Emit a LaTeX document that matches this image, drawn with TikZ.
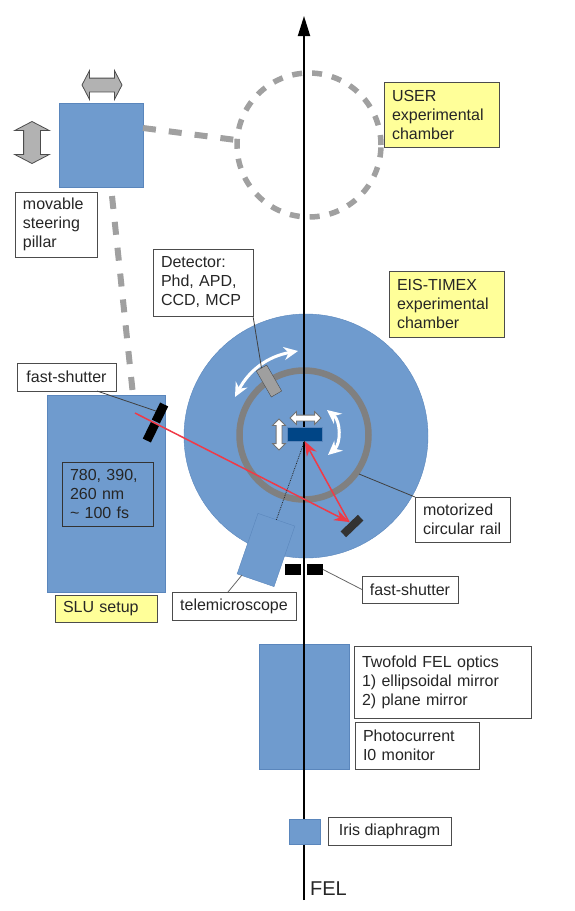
\documentclass[tikz,border=0pt]{standalone}
\usepackage{fontspec}
\setmainfont{Liberation Sans}
\usepackage{xcolor}
\usetikzlibrary{positioning, arrows.meta, calc, shapes.arrows}
\definecolor{blockblue}{HTML}{6F9BCE}
\definecolor{edgeblue}{HTML}{5A86BC}
\definecolor{sampleblue}{HTML}{004586}
\definecolor{notegold}{HTML}{FFFF99}
\definecolor{railgray}{HTML}{808080}
\definecolor{dashgray}{HTML}{A0A0A0}
\definecolor{beamred}{HTML}{F03A47}
\begin{document}
\begin{tikzpicture}[
    x=1pt, y=-1pt,
    block/.style={
        draw=edgeblue, fill=blockblue, inner sep=0pt, outer sep=0pt
    },
    lab/.style={
        draw=black!70, fill=white, line width=0.9pt,
        font=\fontsize{16}{19}\selectfont, text=black!85,
        inner xsep=8pt, inner ysep=0pt, outer sep=0pt, align=left
    },
    note/.style={lab, fill=notegold},
    lead/.style={draw=black!75, line width=0.8pt},
    pathdash/.style={draw=dashgray, line width=6pt, dash pattern=on 13pt off 13pt},
    shutter/.style={fill=black, inner sep=0pt, outer sep=0pt},
    dblarr/.style={
        double arrow, outer sep=0pt, inner xsep=0pt,
        double arrow tip angle=125, line width=0.8pt
    },
    bigarr/.style={dblarr, draw=black!70, fill=gray!60},
    smallarr/.style={dblarr, draw=black!55, fill=white, inner ysep=2.5pt, double arrow tip angle=90, double arrow head extend=3.5pt, minimum height=31pt},
    swing/.style={draw=white, line width=3pt, {Stealth[length=14pt,width=13pt]}-{Stealth[length=14pt,width=13pt]}},
    beam/.style={draw=beamred, line width=1.5pt}
]
    \useasboundingbox (0,0) rectangle (575,911);

    % chambers and big blocks
    \node[block, circle, minimum size=244pt] (chamber) at (306,436) {};
    \node[draw=dashgray, line width=5.5pt, dash pattern=on 10pt off 10pt, circle, inner sep=0pt, outer sep=0pt, minimum size=144pt] (userring) at (309,145) {};
    \node[block, minimum width=84pt, minimum height=84pt] (pillar) at (101,145) {};
    \node[block, minimum width=118pt, minimum height=197pt] (slu) at (106,493.5) {};
    \node[block, minimum width=90pt, minimum height=125pt] (optics) at (304,706.5) {};
    \node[draw=railgray, line width=6.5pt, circle, inner sep=0pt, outer sep=0pt, minimum size=129pt] (rail) at (304,435) {};
    \node[block, rotate=-19, minimum width=39pt, minimum height=64pt] (tele) at (266,550) {};

    % FEL axis
    \coordinate (felstart) at (304,900);
    \coordinate (feltip) at (304,16);
    \draw[line width=1.8pt, -{Triangle[length=20pt,width=12pt]}] (felstart) -- (feltip);
    \node[block, minimum width=31pt, minimum height=25pt] (iris) at (304.5,831.5) {};

    % dashed laser path
    \coordinate (pillarout) at (143,128);
    \coordinate (userin) at (236,140);
    \coordinate (pillardown) at (112,196);
    \coordinate (sluin) at (133,395);
    \draw[pathdash] (pillarout) -- (userin);
    \draw[pathdash] (pillardown) -- (sluin);

    % small elements in the chamber
    \node[draw=black!70, fill=gray!75, rotate=30, inner sep=0pt, outer sep=0pt, minimum width=12pt, minimum height=30pt] (det) at (269,381) {};
    \node[fill=sampleblue, draw=edgeblue, inner sep=0pt, outer sep=0pt, minimum width=35pt, minimum height=14pt] (sample) at (304.5,434) {};
    \node[shutter, minimum width=16pt, minimum height=11pt] (shutl) at (293,569.5) {};
    \node[shutter, minimum width=16pt, minimum height=11pt] (shutr) at (315,569.5) {};
    \node[shutter, rotate=-26, minimum width=9pt, minimum height=19pt] (lasl) at (160,413) {};
    \node[shutter, rotate=-26, minimum width=9pt, minimum height=19pt] (lasr) at (151,432) {};

    % motion arrows
    \node[bigarr, inner ysep=6.5pt, double arrow head extend=7.5pt, minimum height=40pt] (movh) at (102,85) {};
    \node[bigarr, rotate=90, inner ysep=8pt, double arrow head extend=9pt, minimum height=42pt] (movv) at (32,142.5) {};
    \node[smallarr] (samh) at (305.5,418) {};
    \node[smallarr, rotate=90] (samv) at (279,434.5) {};
    \coordinate (detswa) at (235,397);
    \coordinate (detswb) at (298,351);
    \draw[swing] (detswa) to[bend left=26] (detswb);
    \coordinate (samswa) at (327,410);
    \coordinate (samswb) at (328,455);
    \draw[swing] (samswa) to[bend left=50] (samswb);

    % beams
    \coordinate (lasersrc) at (135,413);
    \coordinate (mirrorhit) at (349,522);
    \draw[beam, -{Stealth[length=15pt,width=11pt]}] (lasersrc) -- (mirrorhit);
    \draw[beam, -{Stealth[length=15pt,width=11pt]}] (mirrorhit) -- (sample.south);
    \draw[black!85, densely dotted, line width=0.8pt] (sample.south) -- (tele.north);
    \node[fill=black!80, rotate=-46, inner sep=0pt, outer sep=0pt, minimum width=8pt, minimum height=24pt] (mirror) at (352,526) {};

    % labels
    \node[lab, text width=66pt, minimum height=65pt] (pillarlab) at (56,224.5) {movable\\steering\\pillar};
    \node[note, text width=99pt, minimum height=65pt] (userlab) at (441.5,114.5) {USER\\experimental\\chamber};
    \node[note, text width=99pt, minimum height=66pt] (eislab) at (446.5,304) {EIS-TIMEX\\experimental\\chamber};
    \node[lab, text width=84pt, minimum height=67pt] (detlab) at (203,282.5) {Detector:\\Phd, APD,\\CCD, MCP};
    \node[lab, minimum width=99pt, minimum height=28pt] (fslab) at (66.5,377) {fast-shutter};
    \node[lab, draw=black!80, fill=blockblue, text width=75pt, minimum height=64pt] (wavelab) at (107.5,494) {780, 390,\\260 nm\\\textasciitilde{} 100 fs};
    \node[note, text width=86pt, minimum height=27pt] (slulab) at (106,608.5) {SLU setup};
    \node[lab, minimum width=124pt, minimum height=28pt] (telelab) at (234,606) {telemicroscope};
    \node[lab, text width=79pt, minimum height=45pt] (raillab) at (462.5,519.5) {motorized\\circular rail};
    \node[lab, minimum width=96pt, minimum height=27pt] (shutlab) at (410,589.5) {fast-shutter};
    \node[lab, text width=161pt, minimum height=72pt] (optlab) at (442.5,682) {Twofold FEL optics\\1) ellipsoidal mirror\\2) plane mirror};
    \node[lab, text width=108pt, minimum height=47pt] (i0lab) at (417,745.5) {Photocurrent\\I0 monitor};
    \node[lab, minimum width=123pt, minimum height=28pt] (irislab) at (389.5,831) {Iris diaphragm};
    \node[font=\fontsize{20}{22}\selectfont, text=black!85, inner sep=0pt] (fellab) at (328.5,889) {FEL};

    % leader lines
    \draw[lead] (fslab.south east) ++(-19,0) coordinate (fsfoot) -- (lasl.west);
    \draw[lead] (detlab.south east) -- (det.north);
    \coordinate (railpt) at (359,474);
    \draw[lead] (railpt) -- (raillab.north west);
    \draw[lead, draw=black!60] (shutr.east) -- (shutlab.west);
    \coordinate (telefoot) at (242,575);
    \draw[lead, draw=black!60] (telefoot) -- ($(telelab.north)+(-6,0)$);
\end{tikzpicture}
\end{document}
